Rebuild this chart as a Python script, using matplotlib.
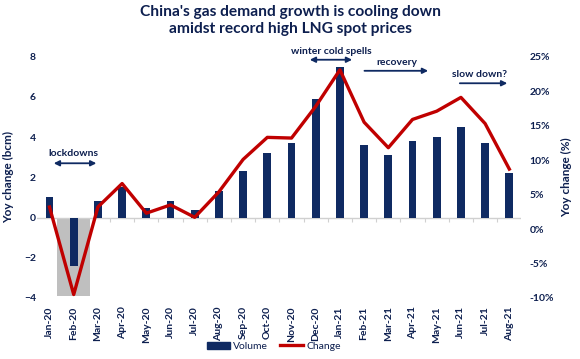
import matplotlib
matplotlib.use("Agg")
import matplotlib.pyplot as plt
from matplotlib.patches import Patch, Rectangle
from matplotlib.lines import Line2D
import numpy as np

plt.rcParams['font.family'] = ['Lato', 'DejaVu Sans']

NAVY = '#0f2a62'
RED = '#c00000'
TXT = '#0d1f4f'

months = ['Jan-20', 'Feb-20', 'Mar-20', 'Apr-20', 'May-20', 'Jun-20', 'Jul-20',
          'Aug-20', 'Sep-20', 'Oct-20', 'Nov-20', 'Dec-20', 'Jan-21', 'Feb-21',
          'Mar-21', 'Apr-21', 'May-21', 'Jun-21', 'Jul-21', 'Aug-21']
volume = [1.0, -2.4, 0.8, 1.5, 0.5, 0.8, 0.4, 1.3, 2.3, 3.2, 3.7, 5.9, 7.5, 3.6,
          3.1, 3.8, 4.0, 4.5, 3.7, 2.2]
change = [3.2, -9.5, 3.2, 6.6, 2.3, 3.5, 1.7, 5.4, 10.1, 13.3, 13.2, 17.8, 23.1,
          15.5, 11.8, 15.9, 17.1, 19.1, 15.3, 8.7]
left_ticks = [-4, -2, 0, 2, 4, 6, 8]
right_ticks = [-10, -5, 0, 5, 10, 15, 20, 25]

x = np.arange(len(months))

fig = plt.figure(figsize=(5.8, 3.59), dpi=100)
ax = fig.add_axes([0.0645, 0.170, 0.8345, 0.672])
ax2 = ax.twinx()

# lockdown shading behind Feb-20
ax.add_patch(Rectangle((0.31, -3.9), 1.38, 3.9, color='#bfbfbf', zorder=1, lw=0))
ax.bar(x, volume, width=0.32, color=NAVY, zorder=3)
ax.axhline(0, color='#d0d0d0', lw=1, zorder=2)

ax.set_xlim(-0.5, 19.5)
ax.set_ylim(-4, 8)
ax.set_yticks(left_ticks)
ax.set_xticks(x)
ax.set_xticklabels(months, rotation=90, fontsize=7, fontweight='bold', color=TXT)
ax.tick_params(axis='both', length=0, labelsize=7.5, labelcolor=TXT)
ax.tick_params(axis='x', pad=6)
ax.tick_params(axis='y', pad=1)
for t in ax.get_yticklabels():
    t.set_fontweight('bold')
ax.set_ylabel('Yoy change (bcm)', fontsize=8.5, fontweight='bold', color=TXT, labelpad=7)

sec = ax.secondary_xaxis(1 / 3)
sec.set_xticks(x[:-1] + 0.5)
sec.set_xticklabels([])
sec.tick_params(axis='x', direction='out', length=3, color='#d0d0d0')
sec.spines['bottom'].set_visible(False)

ax2.plot(x, change, color=RED, lw=2.4, zorder=4)
ax2.set_ylim(-10, 25)
ax2.set_yticks(right_ticks)
ax2.set_yticklabels([f'{v}%' for v in right_ticks], fontweight='bold')
ax2.tick_params(axis='y', length=0, labelsize=7.5, labelcolor=TXT, pad=6)
ax2.set_ylabel('Yoy change (%)', fontsize=8.5, fontweight='bold', color=TXT, labelpad=5)

for a in (ax, ax2):
    for s in a.spines.values():
        s.set_visible(False)

# annotations
akw = dict(color=NAVY, lw=1.3, mutation_scale=8)
ax.annotate('', xy=(0.06, 2.7), xytext=(2.05, 2.7),
            arrowprops=dict(arrowstyle='<|-|>', **akw))
ax.text(1.0, 3.2, 'lockdowns', ha='center', va='center', fontsize=7.5,
        fontweight='bold', color=TXT)
ax.annotate('', xy=(10.64, 7.85), xytext=(12.62, 7.85),
            arrowprops=dict(arrowstyle='<|-|>', **akw), annotation_clip=False)
ax.text(11.65, 8.27, 'winter cold spells', ha='center', va='center', fontsize=7.5,
        fontweight='bold', color=TXT, clip_on=False)
ax.annotate('', xy=(15.76, 7.3), xytext=(12.9, 7.3),
            arrowprops=dict(arrowstyle='-|>', **akw))
ax.text(14.36, 7.73, 'recovery', ha='center', va='center', fontsize=7.5,
        fontweight='bold', color=TXT)
ax.annotate('', xy=(19.03, 6.68), xytext=(16.84, 6.68),
            arrowprops=dict(arrowstyle='-|>', **akw))
ax.text(17.75, 7.1, 'slow down?', ha='center', va='center', fontsize=7.5,
        fontweight='bold', color=TXT)

fig.text(0.5, 0.985, "China's gas demand growth is cooling down\namidst record high LNG spot prices",
         ha='center', va='top', fontsize=11.2, fontweight='bold', color=TXT, linespacing=1.25)

handles = [Patch(color=NAVY), Line2D([0], [0], color=RED, lw=2.4)]
fig.legend(handles, ['Volume', 'Change'], loc='center', bbox_to_anchor=(0.472, 0.035),
           ncol=2, frameon=False, fontsize=7.5, handlelength=2.2, handletextpad=0.3,
           columnspacing=1.2, labelcolor=TXT)

fig.savefig('out.png', dpi=100, facecolor='white')
